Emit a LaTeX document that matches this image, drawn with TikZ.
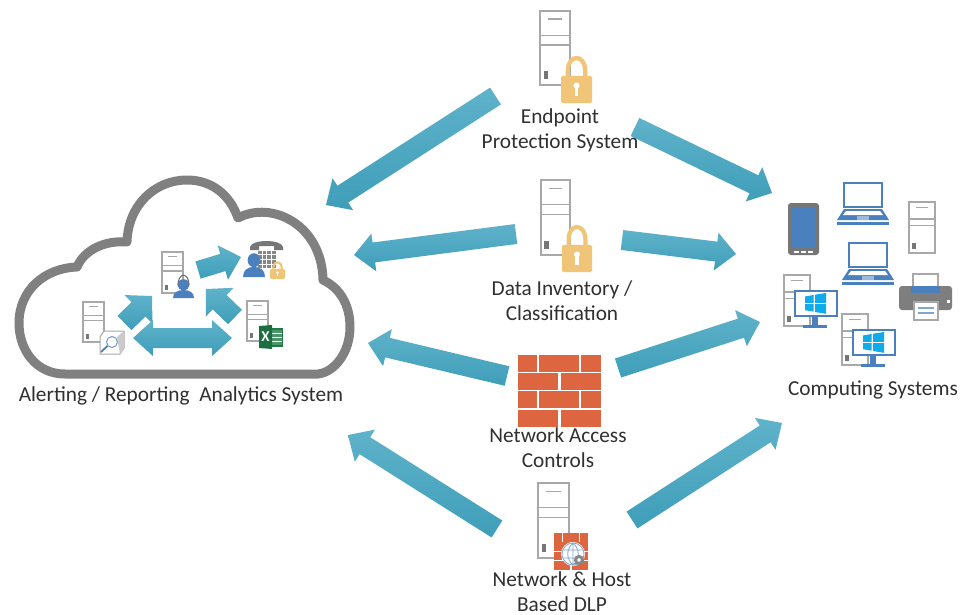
\documentclass[tikz,border=0pt]{standalone}
\usepackage{fontspec}
\setmainfont{Carlito}
\usetikzlibrary{calc}
\definecolor{txt}{HTML}{303030}
\definecolor{cloudgray}{HTML}{808080}
\definecolor{srvgray}{HTML}{A8A8A8}
\definecolor{lockc}{HTML}{F0C578}
\definecolor{brick}{HTML}{DD6540}
\definecolor{iconblue}{HTML}{4A80BD}
\definecolor{winblue}{HTML}{0FACEB}
\definecolor{arrlight}{HTML}{5FB2CA}
\definecolor{arrdark}{HTML}{3F9EB9}
\definecolor{xlgreen}{HTML}{1F7A45}
\tikzset{
  x=1pt,y=-1pt,
  lbl/.style={text=txt,font=\fontsize{21.3}{25.3}\selectfont,align=center,inner sep=0pt},
  arrowfill/.style={top color=arrlight,bottom color=arrdark,draw=none},
  srvline/.style={draw=srvgray,line width=1.4pt},
}
% block arrow: start, end, tail half width, head half width, head length
\newcommand\blockarrow[5]{%
  \coordinate (tmpb) at ($(#2)!#5pt!(#1)$);
  \path[arrowfill] ($(#1)!#3pt!90:(#2)$) -- ($(tmpb)!#3pt!90:(#2)$) -- ($(tmpb)!#4pt!90:(#2)$) -- (#2)
     -- ($(tmpb)!#4pt!-90:(#2)$) -- ($(tmpb)!#3pt!-90:(#2)$) -- ($(#1)!#3pt!-90:(#2)$) -- cycle;
}
\newcommand\srvicon[4]{%
  \begin{scope}[shift={(#1,#2)},xscale=#3,yscale=#4]
    \path[fill=white,srvline] (0,0) rectangle (1,1);
    \draw[srvline] (0,.33) -- (1,.33) (0,.46) -- (1,.46);
    \draw[srvline] (.27,.11) -- (.73,.11);
    \fill[srvgray!70!black] (.12,.81) rectangle (.27,.92);
  \end{scope}}
\newcommand\lockicon[4]{%
  \begin{scope}[shift={(#1,#2)},xscale=#3,yscale=#4]
    \draw[lockc,line width={0.14*#3 pt}] (.22,.45) -- (.22,.3) .. controls (.22,-.07) and (.78,-.07) .. (.78,.3) -- (.78,.45);
    \fill[lockc,rounded corners=1.5pt] (0,.41) rectangle (1,1);
    \fill[white] (.5,.62) circle[x radius=.1,y radius=.065];
    \fill[white] (.44,.62) rectangle (.56,.85);
  \end{scope}}
\newcommand\firewall[4]{%
  \begin{scope}[shift={(#1,#2)},xscale=#3,yscale=#4]
    \foreach \ya/\yb in {0/.235,.5/.735} \foreach \a/\b in {0/.23,.255/.735,.76/1} \fill[brick] (\a,\ya) rectangle (\b,\yb);
    \foreach \ya/\yb in {.25/.485,.765/1} \foreach \a/\b in {0/.485,.515/1} \fill[brick] (\a,\ya) rectangle (\b,\yb);
  \end{scope}}
\newcommand\person[5]{%
  \begin{scope}[shift={(#1,#2)},xscale=#3,yscale=#4]
    \fill[#5] (.5,.3) circle[x radius=.29,y radius=.29];
    \fill[#5] (0,1) .. controls (0,.72) and (.2,.58) .. (.5,.58) .. controls (.8,.58) and (1,.72) .. (1,1) -- cycle;
  \end{scope}}
\newcommand\laptop[2]{%
  \begin{scope}[shift={(#1,#2)}]
    \draw[iconblue,line width=1.9pt,fill=white] (7,1) rectangle (45,25);
    \fill[iconblue] (7,27) -- (45,27) -- (52,38) -- (0,38) -- cycle;
    \fill[white] (9,29) -- (43,29) -- (46,33) -- (6,33) -- cycle;
    \fill[iconblue] (0,40) rectangle (52,43);
    \fill[iconblue!55!white] (20,34) rectangle (32,38);
  \end{scope}}
\newcommand\pcicon[2]{%
  \srvicon{#1}{#2}{26}{51}
  \begin{scope}[shift={(#1,#2)}]
    \fill[iconblue] (19,50) rectangle (43,52.5);
    \fill[iconblue] (28,41) rectangle (34,50);
    \draw[iconblue,line width=1.9pt,fill=white] (11,16) rectangle (53,41);
    \fill[winblue] (21,21.5) -- (29.5,20) -- (29.5,27.8) -- (21,27.8) -- cycle;
    \fill[winblue] (31,19.7) -- (42,18) -- (42,27.8) -- (31,27.8) -- cycle;
    \fill[winblue] (21,29) -- (29.5,29) -- (29.5,36.6) -- (21,35.2) -- cycle;
    \fill[winblue] (31,29) -- (42,29) -- (42,38.8) -- (31,37) -- cycle;
  \end{scope}}
\begin{document}
\begin{tikzpicture}
\useasboundingbox[fill=white] (0,0) rectangle (961,614);

% cloud
\draw[cloudgray,line width=9pt,fill=white,line join=round]
  (65,374) .. controls (36,374) and (19,350) .. (19,323)
  .. controls (19,290) and (45,268) .. (77,267)
  .. controls (84,250) and (105,240) .. (127,242)
  .. controls (128,205) and (155,180) .. (187,180)
  .. controls (212,180) and (230,195) .. (238,218)
  .. controls (272,200) and (322,225) .. (323,280)
  .. controls (340,288) and (350,305) .. (350,327)
  .. controls (350,352) and (335,372) .. (318,374)
  -- cycle;

% cloud contents
\srvicon{83}{302}{21}{40}
\begin{scope}[shift={(97,331)}]
  \path[fill=white,draw=srvgray,line width=1pt] (3,6) -- (7,0) -- (27,0) -- (27,17) -- (23,23) -- (3,23) -- cycle;
  \fill[srvgray!60!white] (20,6) -- (27,0) -- (27,17) -- (23,23) -- cycle;
  \draw[iconblue!80!white,line width=1pt,fill=white] (15,11) circle[radius=5.5];
  \draw[iconblue,line width=1.8pt] (10.5,15) -- (4,21);
\end{scope}
\srvicon{162}{252}{21}{41}
\person{173}{279}{21}{19}{iconblue}
\draw[txt!70!white,line width=1pt] (178,285) .. controls (178,272) and (189,272) .. (189,285);
\srvicon{247}{301}{21}{40}
\begin{scope}[shift={(259,326)}]
  \fill[xlgreen] (3,2) rectangle (24,21);
  \fill[white] (13,4) rectangle (23,19);
  \foreach \yy in {4,8,12,16} \fill[xlgreen!80!white] (13,\yy) rectangle (23,\yy+2.5);
  \fill[xlgreen!90!black] (0,0) -- (13,-1) -- (13,23) -- (0,22) -- cycle;
  \node[font=\bfseries\fontsize{15}{15}\selectfont,text=white,inner sep=0pt] (xlx) at (6.5,11) {X};
\end{scope}
\begin{scope}[shift={(250,241)}]
  \fill[srvgray!70!black] (0,6) .. controls (2,-2) and (31,-2) .. (33,6) -- (33,9) -- (24,9) -- (24,5) -- (9,5) -- (9,9) -- (0,9) -- cycle;
  \foreach \i in {0,1,2,3} \foreach \j in {0,1,2,3}
    \fill[srvgray!80!black] (8+\i*4.7,9.5+\j*4.7) rectangle (11.7+\i*4.7,13.2+\j*4.7);
\end{scope}
\person{243}{253}{22}{24}{iconblue}
\lockicon{270}{262}{15}{17}

% arrows inside the cloud
\coordinate (c1s) at (198,270); \coordinate (c1e) at (241,257);
\coordinate (c2s) at (124.5,323); \coordinate (c2e) at (152,296);
\coordinate (c3s) at (235,317); \coordinate (c3e) at (206,289);
\coordinate (c4m) at (182.5,338); \coordinate (c4l) at (133,338); \coordinate (c4r) at (232,338);
\blockarrow{c1s}{c1e}{9}{18}{19}
\blockarrow{c2s}{c2e}{10}{20}{19}
\blockarrow{c3s}{c3e}{10}{20}{19}
\blockarrow{c4m}{c4r}{10}{18}{20}
\blockarrow{c4m}{c4l}{10}{18}{20}

% central icons
\srvicon{540}{11}{30}{74}
\lockicon{561}{57}{31}{46}
\srvicon{541}{180}{29}{75}
\lockicon{562}{226}{30}{46}
\firewall{518}{355}{83}{72}
\srvicon{538}{483}{31}{75}
\firewall{554}{533}{34}{37}
\begin{scope}[shift={(573,554)}]
  \fill[white] (0,0) circle[radius=12];
  \draw[iconblue!70!white,line width=.8pt,fill=white] (0,0) circle[radius=11];
  \draw[iconblue!70!white,line width=.8pt] (0,-11) .. controls (-7,-5) and (-7,5) .. (0,11) .. controls (7,5) and (7,-5) .. (0,-11)
    (-10,-4) -- (10,-4) (-10,4) -- (10,4) (0,-11) -- (0,11);
  \draw[srvgray!80!black,line width=3pt,fill=white] (6,6) circle[radius=3.5];
\end{scope}

% computing systems
\srvicon{909}{202}{26}{51}
\begin{scope}[shift={(788,203)}]
  \fill[srvgray!70!black,rounded corners=3pt] (0,0) rectangle (31,52);
  \fill[iconblue] (4,5) rectangle (27,44);
  \foreach \xx in {6,13,20} \fill[white] (\xx,47.5) rectangle (\xx+5,49.5);
\end{scope}
\laptop{837}{182}
\laptop{842}{242}
\pcicon{784}{275}
\pcicon{842}{314}
\begin{scope}[shift={(899,273)}]
  \path[fill=white,draw=srvgray,line width=1.3pt] (14,1) rectangle (39,20);
  \fill[srvgray!75!black,rounded corners=3pt] (0,13) rectangle (53,37);
  \fill[iconblue] (12,13) rectangle (41,20);
  \fill[white] (48,27) rectangle (51,30);
  \path[fill=white,draw=srvgray,line width=1.3pt] (15,29) rectangle (39,47);
  \draw[iconblue!70!white,line width=1.2pt] (19,35) -- (35,35) (19,40) -- (35,40);
\end{scope}

% arrows between systems
\coordinate (a1s) at (495.5,96);  \coordinate (a1e) at (326,205);
\coordinate (a2s) at (635,127); \coordinate (a2e) at (772,193);
\coordinate (a3s) at (516,234); \coordinate (a3e) at (354,255);
\coordinate (a4s) at (622,240); \coordinate (a4e) at (736,254);
\coordinate (a5s) at (507,376); \coordinate (a5e) at (368,343);
\coordinate (a6s) at (618,368); \coordinate (a6e) at (760,322);
\coordinate (a7s) at (497,529); \coordinate (a7e) at (348,435);
\coordinate (a8s) at (632,520); \coordinate (a8e) at (782,423);
\foreach \n in {1,...,8} {\blockarrow{a\n s}{a\n e}{10}{19}{20}}

% labels
\node[lbl] (ep) at (560,130.5) {Endpoint\\Protection System};
\node[lbl] (di) at (562,301) {Data Inventory /\\Classification};
\node[lbl] (na) at (558,448) {Network Access\\Controls};
\node[lbl] (dlp) at (562,591.5) {Network \& Host\\Based DLP};
\node[lbl] (ar) at (181,396) {Alerting / Reporting\ \ Analytics System};
\node[lbl] (cs) at (873,390) {Computing Systems};
\end{tikzpicture}
\end{document}
